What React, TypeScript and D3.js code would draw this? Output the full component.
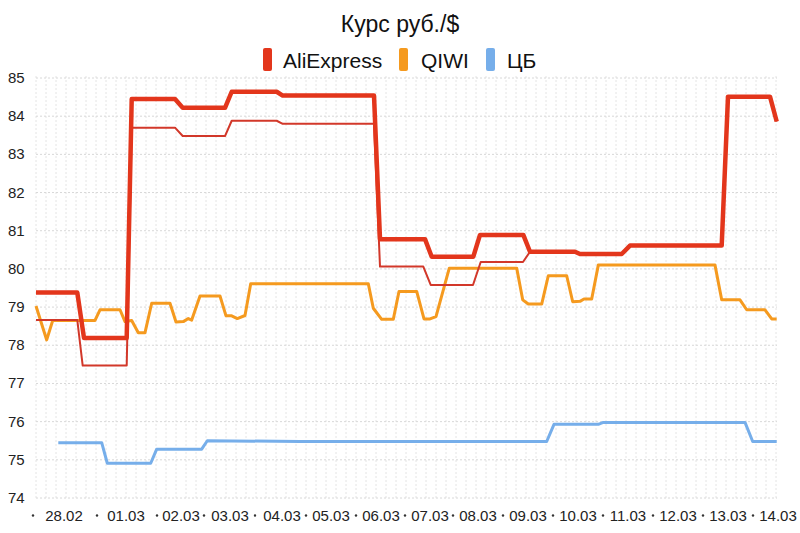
import React from "react";
import * as d3 from "d3";

const title = "Курс руб./$";
const seriesNames = ["AliExpress", "QIWI", "ЦБ"];
const seriesColors = ["#e3361c", "#f59a1f", "#76aeea"];

// x positions are sample-index units
const xLabels = ["28.02", "01.03", "02.03", "03.03", "04.03", "05.03", "06.03", "07.03", "08.03", "09.03", "10.03", "11.03", "12.03", "13.03", "14.03"];
const xLabelPos = [5.6, 18, 29, 38.8, 49.2, 59, 69, 78.8, 88.4, 98.4, 108.4, 118.4, 128.4, 138.4, 148.4];
const xDotPos = [-0.6, 12.2, 24.2, 33.6, 43.8, 54, 64, 73.8, 83.4, 93.4, 103.4, 113.4, 123.4, 133.4, 143.4];
const yTicks = [74, 75, 76, 77, 78, 79, 80, 81, 82, 83, 84, 85];

const aliExpress: [number, number][] = [
  [0, 79.38], [8.26, 79.38], [9.6, 78.19], [18.14, 78.19], [19.14, 84.45], [27.8, 84.45],
  [29.34, 84.22], [37.8, 84.22], [39.14, 84.64], [48.14, 84.64], [49.34, 84.54], [67.6, 84.54],
  [68.8, 80.78], [77.8, 80.78], [79.14, 80.32], [87.46, 80.32], [88.8, 80.89], [97.46, 80.89],
  [98.8, 80.45], [107.8, 80.45], [108.8, 80.39], [117.14, 80.39], [118.8, 80.61], [137.14, 80.61],
  [138.4, 84.51], [146.8, 84.51], [148.14, 83.86],
];

const aliExpressAlt: [number, number][] = [
  [0, 78.66], [8.26, 78.66], [9.34, 77.47], [18.14, 77.47], [19.14, 83.7], [27.8, 83.7],
  [29.34, 83.48], [37.8, 83.48], [39.14, 83.88], [48.14, 83.88], [49.34, 83.8], [67.6, 83.8],
  [68.8, 80.06], [77.46, 80.06], [78.94, 79.58], [87.4, 79.58], [88.94, 80.18], [97.4, 80.18],
  [98.8, 80.45], [107.8, 80.45], [108.8, 80.39], [117.14, 80.39], [118.8, 80.61], [137.14, 80.61],
  [138.4, 84.51], [146.8, 84.51], [148.14, 83.86],
];

const qiwi: [number, number][] = [
  [0, 79.03], [2.14, 78.14], [3.34, 78.65], [11.8, 78.65], [12.8, 78.93], [16.8, 78.93],
  [17.8, 78.62], [19.14, 78.65], [20.46, 78.33], [21.8, 78.33], [23.14, 79.1], [26.8, 79.1],
  [28, 78.61], [29.46, 78.62], [30.46, 78.7], [31.14, 78.66], [32.8, 79.29], [36.8, 79.29],
  [38, 78.77], [39.14, 78.77], [40.26, 78.7], [41.8, 78.78], [42.94, 79.61], [66.46, 79.61],
  [67.46, 78.97], [69.14, 78.68], [71.46, 78.68], [72.6, 79.41], [76.14, 79.41], [77.6, 78.69],
  [78.8, 78.69], [80, 78.75], [82.66, 80.02], [96.14, 80.02], [97.34, 79.19], [98.46, 79.08],
  [101.14, 79.08], [102.46, 79.82], [106.14, 79.82], [107.34, 79.14], [108.8, 79.15], [109.6, 79.21],
  [111.14, 79.21], [112.46, 80.1], [135.8, 80.1], [137.14, 79.19], [140.8, 79.19], [142.14, 78.93],
  [145.8, 78.93], [147.14, 78.69], [148.14, 78.69],
];

const cb: [number, number][] = [
  [4.46, 75.45], [13.14, 75.45], [14.26, 74.91], [22.94, 74.91], [24.14, 75.28], [33.14, 75.28],
  [34.26, 75.5], [52.8, 75.48], [102.14, 75.48], [103.6, 75.93], [112.46, 75.93], [113.46, 75.98],
  [141.8, 75.98], [143.34, 75.48], [148.14, 75.48],
];

const W = 800;
const H = 533;
const left = 36;
const right = 777;
const top = 78;
const bottom = 498;
const font = "'Liberation Sans', Arial, sans-serif";

export default function App() {
  const x = d3.scaleLinear().domain([0, 148.2]).range([left, right]);
  const y = d3.scaleLinear().domain([74, 85]).range([bottom, top]);
  const line = d3
    .line<[number, number]>()
    .x((d) => x(d[0]))
    .y((d) => y(d[1]))
    .curve(d3.curveLinear);
  const vGrid = x.ticks(74);

  const legendItems = [
    { name: seriesNames[0], color: seriesColors[0], sx: 263, tx: 283 },
    { name: seriesNames[1], color: seriesColors[1], sx: 399, tx: 421 },
    { name: seriesNames[2], color: seriesColors[2], sx: 486, tx: 507 },
  ];

  return (
    <svg
      width={W}
      height={H}
      style={{ position: "absolute", left: 0, top: 0, background: "#fff" }}
      fontFamily={font}
    >
      <rect x={0} y={0} width={W} height={H} fill="#fff" />
      {/* grid */}
      {vGrid.map((t) => (
        <line
          key={"v" + t}
          x1={x(t)}
          x2={x(t)}
          y1={top - 2}
          y2={bottom}
          stroke="#e4e4e4"
          strokeWidth={1}
          strokeDasharray="2,2"
        />
      ))}
      {yTicks.map((v) => (
        <line
          key={"h" + v}
          x1={left}
          x2={right}
          y1={y(v)}
          y2={y(v)}
          stroke="#d8d8d8"
          strokeWidth={1}
          strokeDasharray="2,2"
        />
      ))}
      {/* y labels */}
      {yTicks.map((v) => (
        <text key={"yl" + v} x={8} y={y(v) + 5} fontSize={15} fill="#222">
          {v}
        </text>
      ))}
      {/* x labels */}
      {xLabels.map((l, i) => (
        <text
          key={"xl" + l}
          x={x(xLabelPos[i])}
          y={521}
          fontSize={15}
          fill="#222"
          textAnchor="middle"
        >
          {l}
        </text>
      ))}
      {xDotPos.map((t, i) => (
        <circle key={"xd" + i} cx={x(t)} cy={515.5} r={1.2} fill="#333" />
      ))}
      {/* series */}
      <path d={line(cb) || ""} fill="none" stroke={seriesColors[2]} strokeWidth={3} strokeLinejoin="round" />
      <path d={line(qiwi) || ""} fill="none" stroke={seriesColors[1]} strokeWidth={3} strokeLinejoin="round" />
      <path d={line(aliExpressAlt) || ""} fill="none" stroke="#d2382a" strokeWidth={2} strokeLinejoin="round" />
      <path d={line(aliExpress) || ""} fill="none" stroke={seriesColors[0]} strokeWidth={4.5} strokeLinejoin="round" />
      {/* title */}
      <text x={400} y={32} fontSize={23} textAnchor="middle" fill="#111">
        {title}
      </text>
      {/* legend */}
      {legendItems.map((it) => (
        <g key={it.name}>
          <rect x={it.sx} y={48} width={9} height={23} rx={2} fill={it.color} />
          <text x={it.tx} y={68} fontSize={21} fill="#111">
            {it.name}
          </text>
        </g>
      ))}
    </svg>
  );
}
